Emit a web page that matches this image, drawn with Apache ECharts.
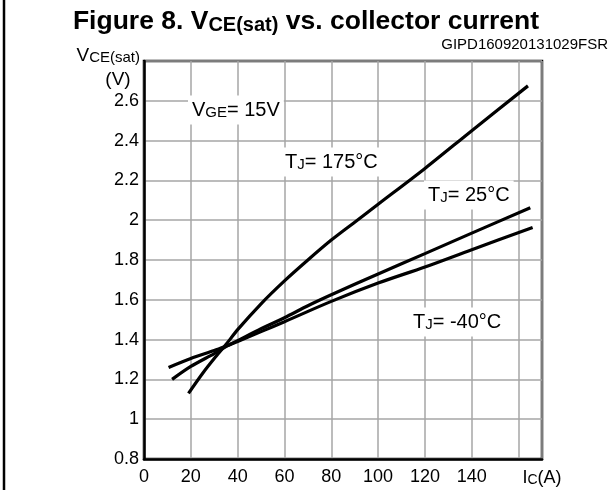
<!DOCTYPE html>
<html>
<head>
<meta charset="utf-8">
<script src="https://cdn.jsdelivr.net/npm/echarts@6/dist/echarts.min.js"></script>
<style>
  html, body { margin: 0; padding: 0; background: #fff; }
  #chart { width: 614px; height: 490px; }
</style>
</head>
<body>
<div id="chart"></div>
<script>
// collector current Ic (A) / VCE(sat) (V) pairs
var tj175 = [[19, 1.13], [25, 1.23], [30, 1.305], [35, 1.375], [40, 1.45], [50, 1.58], [60, 1.695],
  [70, 1.80], [80, 1.90], [90, 1.99], [100, 2.08], [120, 2.26], [140, 2.45], [164, 2.675]];
var tj25 = [[12, 1.20], [20, 1.265], [30, 1.33], [35, 1.365], [40, 1.395], [50, 1.455], [60, 1.51],
  [70, 1.57], [80, 1.625], [100, 1.73], [120, 1.832], [140, 1.935], [165, 2.063]];
var tjMinus40 = [[10.5, 1.26], [20, 1.305], [30, 1.345], [35, 1.367], [40, 1.39], [50, 1.44], [60, 1.49],
  [80, 1.592], [100, 1.684], [120, 1.765], [140, 1.852], [166, 1.963]];

var currentTicks = [0, 20, 40, 60, 80, 100, 120, 140];
var voltageTicks = [0.8, 1, 1.2, 1.4, 1.6, 1.8, 2, 2.2, 2.4, 2.6];

var FONT = 'Liberation Sans, Arial, Helvetica, sans-serif';

var chart = echarts.init(document.getElementById('chart'));

function curveLabel(x, y, sub, rest) {
  return {
    type: 'text',
    x: x,
    y: y,
    z: 20,
    style: {
      text: '{a|' + sub[0] + '}{b|' + sub[1] + '}{a|' + rest + '}',
      rich: {
        a: { fontFamily: FONT, fontSize: 20, lineHeight: 21, color: '#000', verticalAlign: 'bottom' },
        b: { fontFamily: FONT, fontSize: 15, lineHeight: 18, color: '#000', verticalAlign: 'bottom' }
      },
      verticalAlign: 'middle',
      align: 'left',
      backgroundColor: '#fff',
      padding: [4, 4, 4, 4]
    }
  };
}

var option = {
  backgroundColor: '#fff',
  animation: false,
  grid: {
    left: 144,
    right: 72,
    top: 61,
    bottom: 31,
    show: true,
    borderColor: '#000',
    borderWidth: 2.5
  },
  xAxis: {
    type: 'value',
    min: 0,
    max: 170,
    interval: 20,
    axisLine: { show: true, lineStyle: { color: '#000', width: 2.5 } },
    axisTick: { show: false },
    splitLine: { show: true, lineStyle: { color: '#a6a6a6', width: 1.5 } },
    axisLabel: {
      margin: 9,
      showMinLabel: true,
      showMaxLabel: true,
      fontFamily: FONT,
      fontSize: 18,
      color: '#000',
      formatter: function (v) {
        if (v === 170) return '{a|I}{b|C}{a|(A)}';
        return currentTicks.indexOf(v) >= 0 ? String(v) : '';
      },
      rich: {
        a: { fontFamily: FONT, fontSize: 18, color: '#000', lineHeight: 19, verticalAlign: 'bottom' },
        b: { fontFamily: FONT, fontSize: 14, color: '#000', lineHeight: 16, verticalAlign: 'bottom' }
      }
    }
  },
  yAxis: {
    type: 'value',
    min: 0.8,
    max: 2.8,
    interval: 0.2,
    axisLine: { show: true, lineStyle: { color: '#000', width: 2.5 } },
    axisTick: { show: false },
    splitLine: { show: true, lineStyle: { color: '#a6a6a6', width: 1.5 } },
    axisLabel: {
      margin: 5,
      showMinLabel: true,
      showMaxLabel: true,
      fontFamily: FONT,
      fontSize: 18,
      color: '#000',
      formatter: function (v) {
        var r = Math.round(v * 10) / 10;
        return voltageTicks.indexOf(r) >= 0 ? String(r) : '';
      }
    }
  },
  graphic: [
    // left frame of the datasheet cell
    { type: 'line', shape: { x1: 4, y1: 0, x2: 4, y2: 490 }, style: { stroke: '#000', lineWidth: 2.5 } },
    {
      type: 'text', x: 306, y: 4,
      style: {
        text: '{a|Figure 8. V}{s|CE(sat)}{a| vs. collector current}',
        align: 'center',
        rich: {
          a: { fontFamily: FONT, fontSize: 26.5, fontWeight: 'bold', color: '#000', lineHeight: 31, verticalAlign: 'bottom' },
          s: { fontFamily: FONT, fontSize: 20, fontWeight: 'bold', color: '#000', lineHeight: 16, verticalAlign: 'bottom' }
        }
      }
    },
    {
      type: 'text', x: 608, y: 45,
      style: { text: 'GIPD160920131029FSR', fontFamily: FONT, fontSize: 15, fill: '#000', align: 'right', verticalAlign: 'middle' }
    },
    {
      type: 'text', x: 140, y: 55,
      style: {
        text: '{a|V}{b|CE(sat)}',
        align: 'right',
        verticalAlign: 'middle',
        rich: {
          a: { fontFamily: FONT, fontSize: 19, color: '#000', lineHeight: 20, verticalAlign: 'bottom' },
          b: { fontFamily: FONT, fontSize: 15, color: '#000', lineHeight: 17, verticalAlign: 'bottom' }
        }
      }
    },
    {
      type: 'text', x: 118, y: 80,
      style: { text: '(V)', fontFamily: FONT, fontSize: 19, fill: '#000', align: 'center', verticalAlign: 'middle' }
    },
    curveLabel(188, 110, ['V', 'GE'], '= 15V'),
    curveLabel(281, 162, ['T', 'J'], '= 175°C'),
    curveLabel(424, 195, ['T', 'J'], '= 25°C'),
    curveLabel(409, 322, ['T', 'J'], '= -40°C')
  ],
  series: [
    {
      name: 'TJ = 175°C', type: 'line', data: tj175, smooth: 0.3, showSymbol: false, z: 5,
      lineStyle: { color: '#000', width: 3.2 }
    },
    {
      name: 'TJ = 25°C', type: 'line', data: tj25, smooth: 0.3, showSymbol: false, z: 5,
      lineStyle: { color: '#000', width: 3.2 }
    },
    {
      name: 'TJ = -40°C', type: 'line', data: tjMinus40, smooth: 0.3, showSymbol: false, z: 5,
      lineStyle: { color: '#000', width: 3.2 }
    }
  ]
};

chart.setOption(option);
</script>
</body>
</html>
